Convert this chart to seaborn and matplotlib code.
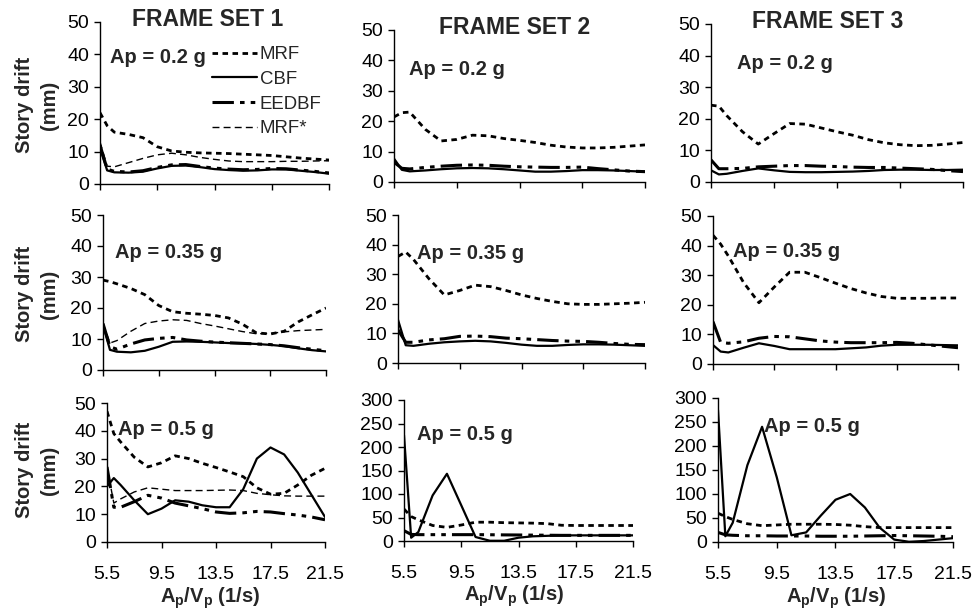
import matplotlib
matplotlib.use("Agg")
import matplotlib.pyplot as plt
import seaborn as sns

# A_p/V_p values where the curves were read
X_RATIO = [5.5, 6.0, 6.5, 7.5, 8.5, 9.5, 10.5, 11.5, 12.5, 13.5, 14.5, 15.5, 16.5, 17.5, 18.5, 19.5, 20.5, 21.5]
X_TICKS = [5.5, 9.5, 13.5, 17.5, 21.5]

FRAME_SETS = ["FRAME SET 1", "FRAME SET 2", "FRAME SET 3"]
AP_LEVELS = ["0.2", "0.35", "0.5"]
SERIES = ["MRF", "CBF", "EEDBF", "MRF*"]

# frame set 1
MRF_1_02 = [22, 18, 16, 15.3, 14.3, 11.5, 10.2, 9.8, 9.6, 9.5, 9.4, 9.2, 9.0, 8.8, 8.4, 8.0, 7.7, 7.4]
CBF_1_02 = [11, 4.2, 3.6, 3.5, 3.8, 4.8, 5.6, 5.7, 5.2, 4.6, 4.3, 4.1, 4.2, 4.5, 4.5, 4.1, 3.7, 3.2]
EEDBF_1_02 = [12, 4.6, 3.9, 3.7, 4.1, 5.1, 5.9, 6.0, 5.4, 4.9, 4.6, 4.4, 4.5, 4.8, 4.7, 4.3, 3.9, 3.4]
MRFS_1_02 = [13, 5.5, 5.3, 6.6, 7.9, 9.0, 9.5, 9.0, 8.2, 7.6, 7.1, 6.9, 6.9, 6.9, 7.0, 7.0, 7.1, 7.2]

MRF_1_035 = [29, 28.5, 27.8, 26.3, 24.3, 20.8, 18.8, 18.3, 18, 17.6, 16.8, 14.8, 12, 11.6, 12.5, 15.5, 17.8, 20]
CBF_1_035 = [14.5, 6.5, 5.9, 5.7, 6.2, 7.5, 9.1, 9.2, 9.1, 8.9, 8.7, 8.6, 8.4, 8.1, 7.7, 7.0, 6.4, 6.0]
EEDBF_1_035 = [15, 7.5, 6.7, 8.4, 9.7, 10.2, 10.5, 9.7, 9.3, 9.0, 8.8, 8.6, 8.4, 8.2, 7.8, 7.2, 6.7, 6.2]
MRFS_1_035 = [15, 8.7, 9.5, 12.5, 15, 15.8, 16.2, 16, 15, 14.2, 13.3, 12.4, 11.7, 11.8, 12.3, 12.7, 12.9, 13.1]

MRF_1_05 = [47, 39, 36, 30.5, 27, 28.5, 31, 30, 28.3, 26.8, 25.2, 23.5, 19.5, 17.2, 17.5, 20.5, 24, 26.5]
CBF_1_05 = [20, 23, 20.5, 15, 10, 12, 15, 14.5, 13.2, 12.5, 12.5, 19, 30, 34, 31.5, 25, 17, 9]
EEDBF_1_05 = [27, 12.5, 12.5, 14.5, 16.8, 15.8, 14, 13, 12, 10.8, 10.3, 10.5, 11, 10.8, 10.2, 9.7, 9.0, 8.0]
MRFS_1_05 = [27, 14, 15.5, 18, 19.5, 19, 18.5, 18.5, 18.5, 18.6, 18.7, 18.5, 17.5, 17, 16.6, 16.5, 16.5, 16.5]

# frame set 2
MRF_2_02 = [21.4, 22.8, 23, 17.3, 13.5, 14, 15.4, 15.2, 14.3, 13.7, 13, 12.1, 11.5, 11.2, 11.2, 11.4, 11.8, 12.2]
CBF_2_02 = [7.7, 4, 3.5, 3.8, 4.2, 4.5, 4.6, 4.5, 4.2, 3.8, 3.4, 3.4, 3.6, 3.9, 3.9, 3.8, 3.6, 3.4]
EEDBF_2_02 = [6.5, 4.5, 4.3, 4.8, 5.2, 5.5, 5.6, 5.5, 5.2, 5.0, 4.9, 4.8, 4.8, 4.9, 4.4, 4.0, 3.6, 3.4]

MRF_2_035 = [36, 37.5, 35, 28.5, 23, 24.5, 26.3, 25.8, 24.5, 23, 21.8, 20.8, 20, 19.8, 19.8, 20, 20.2, 20.5]
CBF_2_035 = [14.6, 6, 5.8, 6.5, 7, 7.3, 7.5, 7.3, 6.8, 6.2, 5.8, 5.8, 6.1, 6.3, 6.3, 6.2, 6.0, 5.8]
EEDBF_2_035 = [11.2, 7, 7, 7.8, 8.2, 9, 9.1, 8.9, 8.4, 8.2, 7.9, 7.6, 7.4, 7.3, 7.0, 6.6, 6.3, 6.2]

MRF_2_05 = [68, 52, 45, 33, 29, 34, 40, 40, 39, 38.5, 38, 37, 33.5, 33, 33, 33, 33, 33]
CBF_2_05 = [225, 7, 19, 97, 143, 76, 8.5, 0.5, 0.5, 7, 10, 11, 12, 12, 12, 12, 12, 12]
EEDBF_2_05 = [22, 14, 13.5, 13.5, 13.5, 13.5, 13.5, 13.3, 13, 12.8, 12.5, 12.3, 12, 12, 12, 12, 12, 12]

# frame set 3
MRF_3_02 = [24.3, 24, 21, 15.9, 12, 15.3, 18.5, 18.3, 17.1, 15.9, 14.8, 13.4, 12.4, 11.8, 11.5, 11.6, 12, 12.5]
CBF_3_02 = [3.7, 2.4, 2.6, 3.5, 4.3, 3.7, 3.2, 3.1, 3.1, 3.2, 3.3, 3.5, 3.8, 3.9, 3.9, 3.8, 3.8, 3.9]
EEDBF_3_02 = [7, 4.2, 4.2, 4.3, 4.8, 5.0, 5.2, 5.2, 5.0, 4.9, 4.7, 4.6, 4.6, 4.4, 4.2, 4.0, 3.6, 3.3]

MRF_3_035 = [43.5, 40.5, 36.5, 27.5, 20.7, 26, 31, 31, 29.2, 27.3, 25.5, 24, 22.8, 22.2, 22.2, 22.2, 22.3, 22.3]
CBF_3_035 = [6.4, 4.2, 3.9, 5.5, 7.0, 6.1, 5.0, 5.0, 5.0, 5.0, 5.3, 5.6, 6.2, 6.5, 6.5, 6.5, 6.4, 6.3]
EEDBF_3_035 = [14.3, 7.3, 7.0, 7.5, 8.7, 9.3, 9.2, 8.5, 7.8, 7.4, 7.2, 7.2, 7.2, 7.3, 7.0, 6.5, 6.0, 5.5]

MRF_3_05 = [60, 53, 47, 38, 34, 35.5, 37, 37, 37, 36.5, 35, 32, 30, 30, 30, 30, 30, 30]
CBF_3_05 = [275, 12, 40, 160, 240, 135, 14, 20, 55, 88, 100, 72, 30, 5, 0.5, 2, 5, 8]
EEDBF_3_05 = [20, 15, 14, 13, 13, 12.5, 12.5, 12.5, 12, 12, 12, 12.5, 13, 13.5, 13, 12.5, 12, 11]

# rows = Ap level, columns = frame set
PANELS = [
    [{"MRF": MRF_1_02, "CBF": CBF_1_02, "EEDBF": EEDBF_1_02, "MRF*": MRFS_1_02},
     {"MRF": MRF_2_02, "CBF": CBF_2_02, "EEDBF": EEDBF_2_02},
     {"MRF": MRF_3_02, "CBF": CBF_3_02, "EEDBF": EEDBF_3_02}],
    [{"MRF": MRF_1_035, "CBF": CBF_1_035, "EEDBF": EEDBF_1_035, "MRF*": MRFS_1_035},
     {"MRF": MRF_2_035, "CBF": CBF_2_035, "EEDBF": EEDBF_2_035},
     {"MRF": MRF_3_035, "CBF": CBF_3_035, "EEDBF": EEDBF_3_035}],
    [{"MRF": MRF_1_05, "CBF": CBF_1_05, "EEDBF": EEDBF_1_05, "MRF*": MRFS_1_05},
     {"MRF": MRF_2_05, "CBF": CBF_2_05, "EEDBF": EEDBF_2_05},
     {"MRF": MRF_3_05, "CBF": CBF_3_05, "EEDBF": EEDBF_3_05}],
]
Y_MAX = [[50, 50, 50], [50, 50, 50], [50, 300, 300]]

STYLES = {
    "MRF": dict(linewidth=2.0, linestyle=(0, (2, 1.6))),
    "CBF": dict(linewidth=1.6, linestyle="-"),
    "EEDBF": dict(linewidth=2.2, linestyle=(0, (7, 2, 1.5, 2, 1.5, 2))),
    "MRF*": dict(linewidth=1.0, linestyle=(0, (5, 3))),
}

W, H = 974, 614
# axes boxes in pixels (left, top, right, bottom)
BOXES = [
    [(100, 22, 329, 184), (394, 30, 645, 182), (711, 24, 963, 182)],
    [(103, 215, 326, 370), (398, 215, 645, 363), (713, 216, 958, 364)],
    [(107, 403, 325, 542), (404, 400, 633, 541), (718, 398, 953, 542)],
]
AP_POS = [
    [(0.044, 0.78), (0.06, 0.737), (0.103, 0.753)],
    [(0.054, 0.755), (0.077, 0.743), (0.082, 0.757)],
    [(0.05, 0.806), (0.057, 0.752), (0.196, 0.80)],
]

sns.set_style("ticks")
plt.rcParams["font.family"] = ["Liberation Sans", "DejaVu Sans"]
plt.rcParams["mathtext.fontset"] = "custom"
plt.rcParams["mathtext.rm"] = "Liberation Sans"
plt.rcParams["mathtext.bf"] = "Liberation Sans:bold"

fig = plt.figure(figsize=(W / 100, H / 100), dpi=100)

for r in range(3):
    for c in range(3):
        x0, y0, x1, y1 = BOXES[r][c]
        ax = fig.add_axes([x0 / W, 1 - y1 / H, (x1 - x0) / W, (y1 - y0) / H])
        for name in SERIES:
            if name not in PANELS[r][c]:
                continue
            sns.lineplot(x=X_RATIO, y=PANELS[r][c][name], ax=ax, color="black",
                         estimator=None, sort=False,
                         label=name if (r, c) == (0, 0) else None, **STYLES[name])
        ymax = Y_MAX[r][c]
        ax.set_xlim(5.5, 21.5)
        ax.set_ylim(0, ymax)
        ax.set_xticks(X_TICKS)
        ax.set_xticklabels([f"{t:.1f}" for t in X_TICKS])
        ax.set_yticks(range(0, ymax + 1, 10 if ymax == 50 else 50))
        for s in ["top", "right"]:
            ax.spines[s].set_visible(False)
        for s in ["left", "bottom"]:
            ax.spines[s].set_color("black")
            ax.spines[s].set_linewidth(1.0)
        ax.tick_params(axis="both", direction="out", length=4, width=1, colors="black", labelsize=14)
        ax.tick_params(axis="y", pad=4)
        ax.tick_params(axis="x", pad=13.5, labelbottom=(r == 2))
        ax.set_xlabel("")
        ax.set_ylabel("")
        fx, fy = AP_POS[r][c]
        ax.text(fx, fy, f"Ap = {AP_LEVELS[r]} g", transform=ax.transAxes, ha="left", va="center",
                fontsize=14.5, fontweight="bold")
        if (r, c) == (0, 0):
            ax.legend(loc="upper left", bbox_to_anchor=(0.49, 0.85), frameon=False, fontsize=13.4,
                      handlelength=2.4, handletextpad=0.15, labelspacing=0.41,
                      borderpad=0, borderaxespad=0)
        elif ax.get_legend() is not None:
            ax.get_legend().remove()

# column titles
for (px, py), title in zip([(208, 20), (515, 27), (828, 21)], FRAME_SETS):
    fig.text(px / W, 1 - py / H, title, ha="center", va="center", fontsize=16.5, fontweight="bold")

# row labels
for py in [105, 294, 470]:
    fig.text(37 / W, 1 - py / H, "Story drift\n(mm)", rotation=90, ha="center", va="center",
             multialignment="center", fontsize=14.5, fontweight="bold", linespacing=1.35)

# x axis labels
for px, py in [(210, 598), (514, 596), (836, 598)]:
    fig.text(px / W, 1 - py / H, r"A$_\mathbf{p}$/V$_\mathbf{p}$ (1/s)", ha="center", va="center",
             fontsize=14.5, fontweight="bold")

fig.savefig("out.png", dpi=100)
